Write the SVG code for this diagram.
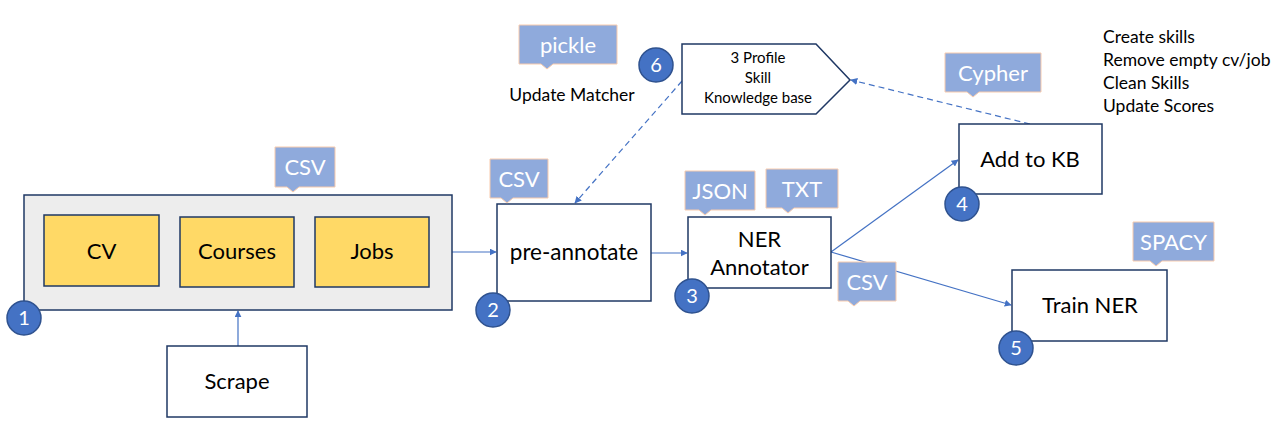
<svg xmlns="http://www.w3.org/2000/svg" width="1285" height="438" viewBox="0 0 1285 438">
<defs>
<marker id="ah" viewBox="0 0 10 10" refX="9" refY="5" markerWidth="7" markerHeight="7" markerUnits="userSpaceOnUse" orient="auto"><path d="M0,0 L10,5 L0,10 Z" fill="#4472C4"/></marker>
<style>
.box{fill:#fff;stroke:#1F3864;stroke-width:1.5}
.yel{fill:#FFD966;stroke:#1F3864;stroke-width:1.5}
.t{font-family:Lato,"Open Sans",sans-serif;fill:#000;text-anchor:middle}
.co{fill:#8FAADC;stroke:#F8CBAD;stroke-width:1}
.ct{font-family:Lato,"Open Sans",sans-serif;fill:#fff;font-size:22px;text-anchor:middle}
.num circle{fill:#4472C4;stroke:#2F528F;stroke-width:1.5}
.nt{font-family:Lato,"Open Sans",sans-serif;fill:#fff;font-size:20px;text-anchor:middle}
.ln{stroke:#4472C4;stroke-width:1.2;fill:none}
.dash{stroke-dasharray:6,4}
</style>
</defs>
<rect width="1285" height="438" fill="#fff"/>

<g id="connectors">
<line class="ln" x1="452" y1="252" x2="496" y2="252" marker-end="url(#ah)"/>
<line class="ln" x1="238" y1="346" x2="238" y2="311" marker-end="url(#ah)"/>
<line class="ln" x1="651" y1="253" x2="687" y2="253" marker-end="url(#ah)"/>
<line class="ln" x1="831" y1="252" x2="958" y2="160" marker-end="url(#ah)"/>
<line class="ln" x1="831" y1="252" x2="1011" y2="305" marker-end="url(#ah)"/>
<line class="ln dash" x1="682" y1="81" x2="575" y2="203" marker-end="url(#ah)"/>
<line class="ln dash" x1="1030" y1="124" x2="851" y2="80" marker-end="url(#ah)"/>
</g>

<g id="node1">
<rect x="24" y="195" width="428" height="115" fill="#EDEDED" stroke="#1F3864" stroke-width="1.5"/>
<g id="cv"><rect class="yel" x="44" y="215" width="115" height="71"/><text class="t" x="101.5" y="259" font-size="22">CV</text></g>
<g id="courses"><rect class="yel" x="180" y="217" width="114" height="70"/><text class="t" x="237" y="259" font-size="22">Courses</text></g>
<g id="jobs"><rect class="yel" x="315" y="217" width="114" height="70"/><text class="t" x="372" y="259" font-size="22">Jobs</text></g>
</g>

<g id="scrape"><rect class="box" x="167" y="346" width="140" height="71"/><text class="t" x="237" y="389" font-size="22">Scrape</text></g>

<g id="preannotate"><rect class="box" x="497" y="204" width="154" height="97"/><text class="t" x="574" y="260" font-size="22.5">pre-annotate</text></g>

<g id="ner"><rect class="box" x="688" y="217" width="143" height="71"/><text class="t" x="759.5" y="247" font-size="22">NER</text><text class="t" x="759.5" y="275" font-size="22">Annotator</text></g>

<g id="addkb"><rect class="box" x="959" y="124" width="143" height="70"/><text class="t" x="1030" y="167" font-size="22">Add to KB</text></g>

<g id="trainner"><rect class="box" x="1012" y="270" width="155" height="71"/><text class="t" x="1090" y="313" font-size="22">Train NER</text></g>

<g id="kb"><path class="box" d="M682,44 H816 L850,80 L816,114 H682 Z"/>
<text class="t" x="758" y="63" font-size="15">3 Profile</text>
<text class="t" x="758" y="83" font-size="15">Skill</text>
<text class="t" x="758" y="103" font-size="15">Knowledge base</text></g>

<g id="callouts">
<g id="c-csv1"><path class="co" d="M275,147 H335 V187 H299 L293,192 L287,187 H275 Z"/><text class="ct" x="305" y="175">CSV</text></g>
<g id="c-csv2"><path class="co" d="M490,159 H548 V198 H513 L507,203 L501,198 H490 Z"/><text class="ct" x="519" y="187">CSV</text></g>
<g id="c-json"><path class="co" d="M685,171 H755 V210 H711 L705,215 L699,210 H685 Z"/><text class="ct" x="720" y="199">JSON</text></g>
<g id="c-txt"><path class="co" d="M766,169 H838 V208 H794 L788,213 L782,208 H766 Z"/><text class="ct" x="802" y="197">TXT</text></g>
<g id="c-csv3"><path class="co" d="M838,262 H896 V301 H860 L854,306 L848,301 H838 Z"/><text class="ct" x="867" y="290">CSV</text></g>
<g id="c-pickle"><path class="co" d="M519,25 H617 V64 H553 L547,69 L541,64 H519 Z"/><text class="ct" x="568" y="53">pickle</text></g>
<g id="c-cypher"><path class="co" d="M945,53 H1041 V92 H979 L973,97 L967,92 H945 Z"/><text class="ct" x="993" y="81">Cypher</text></g>
<g id="c-spacy"><path class="co" d="M1133,222 H1214 V261 H1162 L1156,266 L1150,261 H1133 Z"/><text class="ct" x="1173.5" y="250">SPACY</text></g>
</g>

<g id="labels">
<text class="t" x="572" y="101" font-size="17.5">Update Matcher</text>
<text font-family="Lato,'Open Sans',sans-serif" font-size="17.5" fill="#000">
<tspan x="1103" y="43">Create skills</tspan>
<tspan x="1103" y="66">Remove empty cv/job</tspan>
<tspan x="1103" y="89">Clean Skills</tspan>
<tspan x="1103" y="112">Update Scores</tspan>
</text>
</g>

<g id="numbers" class="num">
<g id="n1"><circle cx="24" cy="318" r="17"/><text class="nt" x="24" y="325">1</text></g>
<g id="n2"><circle cx="493" cy="310" r="17"/><text class="nt" x="493" y="317">2</text></g>
<g id="n3"><circle cx="692" cy="296" r="17"/><text class="nt" x="692" y="303">3</text></g>
<g id="n4"><circle cx="962" cy="204" r="17"/><text class="nt" x="962" y="211">4</text></g>
<g id="n5"><circle cx="1016" cy="348" r="17"/><text class="nt" x="1016" y="355">5</text></g>
<g id="n6"><circle cx="656" cy="65" r="17"/><text class="nt" x="656" y="72">6</text></g>
</g>
</svg>
